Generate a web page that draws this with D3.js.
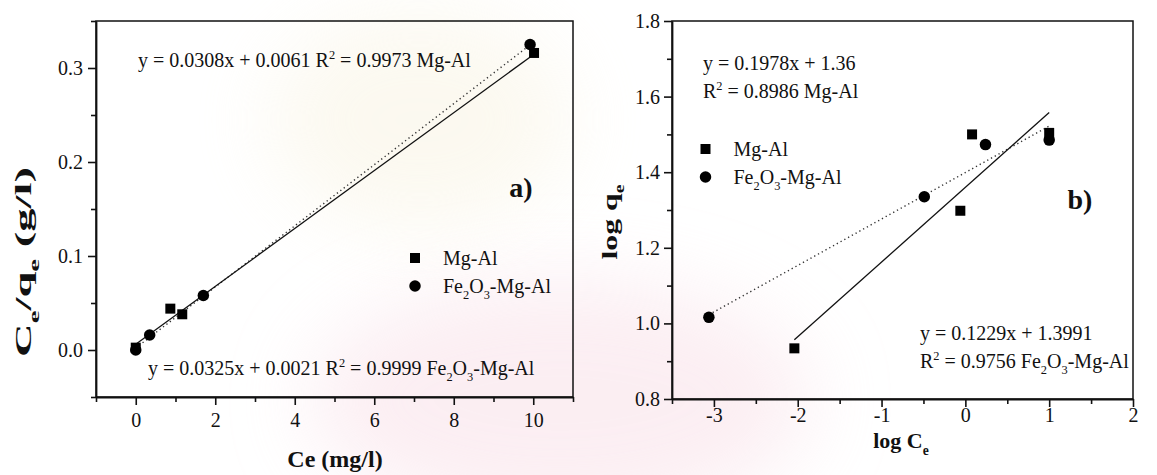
<!DOCTYPE html>
<html>
<head>
<meta charset="utf-8">
<script src="https://cdn.jsdelivr.net/npm/d3@7"></script>
<style>
  html, body { margin: 0; padding: 0; background: #fff; }
  svg { display: block; }
  svg text { font-family: "Liberation Serif", "Times New Roman", serif; }
</style>
</head>
<body>
<svg id="chart" width="1157" height="475"></svg>
<script>
// ---- Panel a) Langmuir: Ce/qe against Ce ----
const ceMgAl = [0, 0.87, 1.17, 10.02];
const ceQeMgAl = [0.0025, 0.044, 0.038, 0.316];
const ceFe = [0, 0.35, 1.70, 9.92];
const ceQeFe = [0.0, 0.016, 0.058, 0.325];
const langmuirFitMgAl = [0.0308, 0.0061];   // slope, intercept
const langmuirFitFe = [0.0325, 0.0021];
const langmuirXTicks = [0, 2, 4, 6, 8, 10];
const langmuirXMinor = [-1, 1, 3, 5, 7, 9, 11];
const langmuirYTicks = [0.0, 0.1, 0.2, 0.3];
const langmuirYMinor = [-0.05, 0.05, 0.15, 0.25, 0.35];

// ---- Panel b) Freundlich: log qe against log Ce ----
const logCeMgAl = [-2.04, -0.06, 0.08, 1.0];
const logQeMgAl = [0.934, 1.298, 1.500, 1.504];
const logCeFe = [-3.06, -0.49, 0.24, 1.0];
const logQeFe = [1.016, 1.335, 1.473, 1.485];
const freundlichFitMgAl = [0.1978, 1.36];
const freundlichFitFe = [0.1229, 1.3991];
const freundlichXTicks = [-3, -2, -1, 0, 1, 2];
const freundlichXMinor = [-3.5, -2.5, -1.5, -0.5, 0.5, 1.5];
const freundlichYTicks = [0.8, 1.0, 1.2, 1.4, 1.6, 1.8];
const freundlichYMinor = [0.9, 1.1, 1.3, 1.5, 1.7];

const seriesNames = ["Mg-Al", "Fe2O3-Mg-Al"];

const svg = d3.select("#chart");
const INK = "#111";
const SERIF = '"Liberation Serif", "Times New Roman", serif';

// soft background tint
const defs = svg.append("defs");
defs.append("filter").attr("id", "soft").attr("x", "-50%").attr("y", "-50%")
  .attr("width", "200%").attr("height", "200%")
  .append("feGaussianBlur").attr("stdDeviation", 40);
svg.append("ellipse").attr("cx", 560).attr("cy", 400).attr("rx", 250).attr("ry", 120)
  .attr("fill", "#f9e3ea").attr("opacity", 0.6).attr("filter", "url(#soft)");
svg.append("ellipse").attr("cx", 420).attr("cy", 120).attr("rx", 150).attr("ry", 110)
  .attr("fill", "#f8f2de").attr("opacity", 0.45).attr("filter", "url(#soft)");

// text with sub/superscripts: parts are strings or [text, "sub"|"sup"]
function richText(g, x, y, parts, size, opts = {}) {
  const t = g.append("text").attr("x", x).attr("y", y)
    .attr("font-family", SERIF)
    .attr("font-size", size).attr("fill", INK)
    .attr("font-weight", opts.bold ? "bold" : "normal")
    .attr("text-anchor", opts.anchor || "start");
  let shift = 0;
  parts.forEach(p => {
    if (typeof p === "string") {
      t.append("tspan").attr("dy", -shift).text(p);
      shift = 0;
    } else {
      const s = p[1] === "sup" ? -0.42 * size : 0.32 * size;
      t.append("tspan").attr("dy", s - shift).attr("font-size", size * 0.62).text(p[0]);
      shift = s;
    }
  });
  return t;
}

function styleAxis(g, size) {
  g.attr("font-family", SERIF).attr("font-size", size);
  g.selectAll("path.domain").attr("stroke", INK).attr("stroke-width", 1.8);
  g.selectAll(".tick line").attr("stroke", INK).attr("stroke-width", 1.6);
  g.selectAll(".tick text").attr("fill", INK).attr("font-family", SERIF);
}

function panel(cfg) {
  const x = d3.scaleLinear().domain(cfg.xDomain).range([cfg.left, cfg.right]);
  const y = d3.scaleLinear().domain(cfg.yDomain).range([cfg.bottom, cfg.top]);
  const g = svg.append("g");

  // frame
  g.append("rect").attr("x", cfg.left).attr("y", cfg.top)
    .attr("width", cfg.right - cfg.left).attr("height", cfg.bottom - cfg.top)
    .attr("fill", "none").attr("stroke", INK).attr("stroke-width", 1.5);

  // axes
  const xa = g.append("g").attr("transform", `translate(0,${cfg.bottom})`)
    .call(d3.axisBottom(x).tickValues(cfg.xTicks).tickSize(8).tickSizeOuter(0)
      .tickPadding(cfg.xPad).tickFormat(d => String(d)));
  styleAxis(xa, 20);
  const xm = g.append("g").attr("transform", `translate(0,${cfg.bottom})`)
    .call(d3.axisBottom(x).tickValues(cfg.xMinor).tickSize(5).tickFormat(""));
  xm.select("path.domain").remove();
  styleAxis(xm, 20);

  const ya = g.append("g").attr("transform", `translate(${cfg.left},0)`)
    .call(d3.axisLeft(y).tickValues(cfg.yTicks).tickSize(8).tickSizeOuter(0)
      .tickPadding(cfg.yPad).tickFormat(d => d.toFixed(1)));
  styleAxis(ya, 20);
  const ym = g.append("g").attr("transform", `translate(${cfg.left},0)`)
    .call(d3.axisLeft(y).tickValues(cfg.yMinor).tickSize(5).tickFormat(""));
  ym.select("path.domain").remove();
  styleAxis(ym, 20);

  // fitted lines across each series' x range
  const line = d3.line().x(d => x(d[0])).y(d => y(d[1]));
  cfg.series.forEach(s => {
    const ext = d3.extent(s.xs);
    const pts = ext.map(v => [v, s.fit[0] * v + s.fit[1]]);
    g.append("path").attr("d", line(pts)).attr("fill", "none")
      .attr("stroke", s.dotted ? "#333" : INK)
      .attr("stroke-width", s.dotted ? 1.4 : 1.3)
      .attr("stroke-dasharray", s.dotted ? "1.3 3" : null);
  });

  // markers
  cfg.series.forEach(s => {
    const sym = d3.symbol().type(s.shape).size(s.shape === d3.symbolSquare ? 100 : 104);
    g.selectAll(null).data(d3.zip(s.xs, s.ys)).join("path")
      .attr("d", sym).attr("fill", "#000")
      .attr("transform", d => `translate(${x(d[0])},${y(d[1])})`);
  });

  return { g, x, y };
}

// ---------- panel a ----------
panel({
  left: 96, right: 573, top: 21, bottom: 397,
  xDomain: [-1, 11], yDomain: [-0.05, 0.35],
  xTicks: langmuirXTicks, xMinor: langmuirXMinor,
  yTicks: langmuirYTicks, yMinor: langmuirYMinor,
  xPad: 8, yPad: 5,
  series: [
    { xs: ceFe, ys: ceQeFe, fit: langmuirFitFe, dotted: true, shape: d3.symbolCircle },
    { xs: ceMgAl, ys: ceQeMgAl, fit: langmuirFitMgAl, dotted: false, shape: d3.symbolSquare }
  ]
});

// ---------- panel b ----------
panel({
  left: 672, right: 1133, top: 21, bottom: 399,
  xDomain: [-3.5, 2], yDomain: [0.8, 1.8],
  xTicks: freundlichXTicks, xMinor: freundlichXMinor,
  yTicks: freundlichYTicks, yMinor: freundlichYMinor,
  xPad: 1, yPad: 4,
  series: [
    { xs: logCeFe, ys: logQeFe, fit: freundlichFitFe, dotted: true, shape: d3.symbolCircle },
    { xs: logCeMgAl, ys: logQeMgAl, fit: freundlichFitMgAl, dotted: false, shape: d3.symbolSquare }
  ]
});

// ---------- annotations ----------
const fmt4 = d3.format(".4f");
richText(svg, 138, 67, [`y = ${fmt4(langmuirFitMgAl[0])}x + ${fmt4(langmuirFitMgAl[1])} R`, ["2", "sup"], " = 0.9973 Mg-Al"], 20);
richText(svg, 148, 375, [`y = ${fmt4(langmuirFitFe[0])}x + ${fmt4(langmuirFitFe[1])} R`, ["2", "sup"], " = 0.9999 Fe", ["2", "sub"], "O", ["3", "sub"], "-Mg-Al"], 20);
richText(svg, 521, 197, ["a)"], 28, { bold: true, anchor: "middle" });

richText(svg, 703, 70, [`y = ${freundlichFitMgAl[0]}x + ${freundlichFitMgAl[1]}`], 20);
richText(svg, 703, 98, ["R", ["2", "sup"], " = 0.8986 Mg-Al"], 20);
richText(svg, 920, 340, [`y = ${freundlichFitFe[0]}x + ${freundlichFitFe[1]}`], 20);
richText(svg, 920, 368, ["R", ["2", "sup"], " = 0.9756 Fe", ["2", "sub"], "O", ["3", "sub"], "-Mg-Al"], 20);
richText(svg, 1080, 209, ["b)"], 28, { bold: true, anchor: "middle" });

// ---------- legends ----------
function legend(x0, y0) {
  const shapes = [d3.symbolSquare, d3.symbolCircle];
  seriesNames.forEach((name, i) => {
    const cy = y0 + i * 28;
    svg.append("path").attr("d", d3.symbol().type(shapes[i]).size(i ? 104 : 100)())
      .attr("transform", `translate(${x0},${cy})`).attr("fill", "#000");
    const parts = name === "Fe2O3-Mg-Al" ? ["Fe", ["2", "sub"], "O", ["3", "sub"], "-Mg-Al"] : [name];
    richText(svg, x0 + 28, cy + 7, parts, 20);
  });
}
legend(415, 258);
legend(705.5, 149);

// ---------- axis titles ----------
richText(svg, 335, 467, ["Ce (mg/l)"], 24, { bold: true, anchor: "middle" });
richText(svg, 901, 448, ["log C", ["e", "sub"]], 22, { bold: true, anchor: "middle" });

function verticalTitle(cy, baseX, parts, size, length) {
  const g = svg.append("g");
  const t = richText(g, 0, 0, parts, size, { bold: true, anchor: "middle" });
  const natural = t.node().getComputedTextLength();
  const k = length / natural;
  g.attr("transform", `translate(${baseX},${cy}) rotate(-90) scale(${k},1)`);
}
verticalTitle(262, 31, ["C", ["e", "sub"], "/q", ["e", "sub"], " (g/l)"], 24, 190);
verticalTitle(222, 617, ["log q", ["e", "sub"]], 22, 75);
</script>
</body>
</html>
